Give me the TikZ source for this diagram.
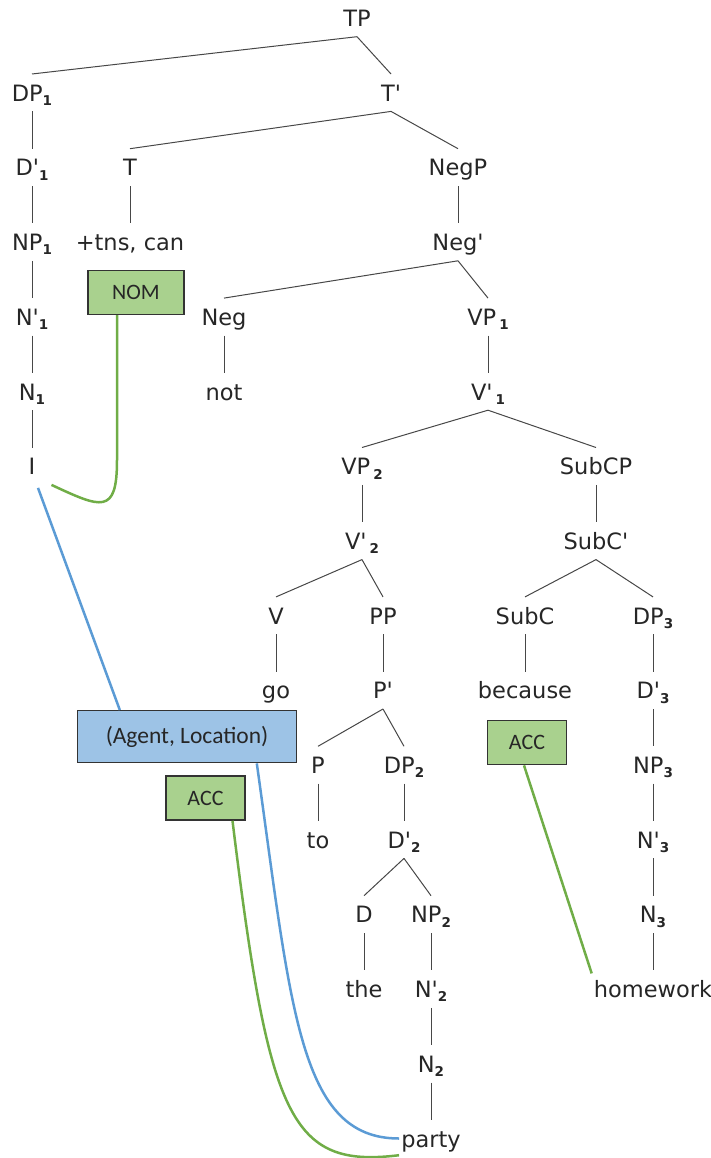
\documentclass[tikz,border=0pt]{standalone}
\usepackage{fontspec}
\usepackage{tikz}
\usetikzlibrary{positioning}
\newfontfamily\treefont{DejaVu Sans}
\newfontfamily\casefont{Carlito}
\definecolor{colCase}{RGB}{169,209,142}
\definecolor{colRole}{RGB}{157,195,230}
\definecolor{colCaseLn}{RGB}{112,173,71}
\definecolor{colRoleLn}{RGB}{91,155,213}
\newcommand{\sbs}[1]{\raisebox{-0.35ex}{\fontsize{13.5}{14}\selectfont\bfseries #1}}
\newcommand{\psbs}[1]{\hspace{3pt}\sbs{#1}}
\newcommand{\pr}{\textquotesingle}
\tikzset{
  lbl/.style     = {font=\treefont\fontsize{22.5}{27}\selectfont, text=black!85,
                    text height=22pt, text depth=5pt, inner xsep=2pt, inner ysep=5pt},
  casebox/.style = {rectangle, draw=black!80, line width=1.4pt, fill=colCase,
                    font=\casefont\fontsize{22}{26}\selectfont, text=black!85,
                    minimum width=79pt, minimum height=44pt, inner sep=0pt},
  rolebox/.style = {rectangle, draw=black!80, line width=1.4pt, fill=colRole,
                    font=\casefont\fontsize{23.5}{28}\selectfont, text=black!85,
                    minimum width=219pt, minimum height=52pt, inner sep=0pt},
  edge/.style    = {draw=black!72, line width=1pt},
  gline/.style   = {draw=colCaseLn, line width=2.5pt},
  bline/.style   = {draw=colRoleLn, line width=2.5pt},
}

\begin{document}
\begin{tikzpicture}[x=1pt, y=1pt, node distance=37.3pt]
\useasboundingbox (0,0) rectangle (711,-1158);

%% ── Row 0-1: TP, subject and T' ──────────────────────────
\node[lbl, anchor=base] (tp) at (357,-26.5) {TP};
\node[lbl, below=of tp, xshift=-325pt] (dp1)  {DP\sbs{1}};
\node[lbl, below=of tp, xshift=34pt]   (tbar) {T\pr};

%% ── Row 2-3: T and NegP ──────────────────────────────────
\node[lbl, below=of dp1]                (d1bar) {D\pr\sbs{1}};
\node[lbl, below=of tbar, xshift=-261pt] (t)    {T};
\node[lbl, below=of tbar, xshift=67pt]  (negp)  {NegP};
\node[lbl, below=of d1bar]              (np1)   {NP\sbs{1}};
\node[lbl, below=of t]                  (tns)   {+tns, can};
\node[lbl, below=of negp]               (negbar){Neg\pr};

%% ── Row 4-6: Neg and VP 1 ────────────────────────────────
\node[lbl, below=of np1]                (n1bar) {N\pr\sbs{1}};
\node[lbl, below=of negbar, xshift=-234pt] (neg) {Neg};
\node[lbl, below=of negbar, xshift=30pt] (vp1)  {VP\psbs{1}};
\node[lbl, below=of n1bar]              (n1)    {N\sbs{1}};
\node[lbl, below=of neg]                (not)   {not};
\node[lbl, below=of vp1]                (v1bar) {V\pr\psbs{1}};
\node[lbl, below=of n1]                 (i)     {I};
\node[lbl, below=of v1bar, xshift=-126pt] (vp2) {VP\psbs{2}};
\node[lbl, below=of v1bar, xshift=108pt] (subcp){SubCP};

%% ── Row 7-9: V'2 and SubC' ───────────────────────────────
\node[lbl, below=of vp2]                (v2bar) {V\pr\psbs{2}};
\node[lbl, below=of subcp]              (subcbar){SubC\pr};
\node[lbl, below=of v2bar, xshift=-86pt] (v)    {V};
\node[lbl, below=of v2bar, xshift=21pt] (pp)    {PP};
\node[lbl, below=of subcbar, xshift=-71pt] (subc){SubC};
\node[lbl, below=of subcbar, xshift=57pt] (dp3) {DP\sbs{3}};
\node[lbl, below=of v]                  (go)    {go};
\node[lbl, below=of pp]                 (pbar)  {P\pr};
\node[lbl, below=of subc]               (because){because};
\node[lbl, below=of dp3]                (d3bar) {D\pr\sbs{3}};

%% ── Row 10-15: PP object and DP3 ─────────────────────────
\node[lbl, below=of pbar, xshift=-65pt] (p)     {P};
\node[lbl, below=of pbar, xshift=21pt]  (dp2)   {DP\sbs{2}};
\node[lbl, below=of d3bar]              (np3)   {NP\sbs{3}};
\node[lbl, below=of p]                  (to)    {to};
\node[lbl, below=of dp2]                (d2bar) {D\pr\sbs{2}};
\node[lbl, below=of np3]                (n3bar) {N\pr\sbs{3}};
\node[lbl, below=of d2bar, xshift=-40pt] (d)    {D};
\node[lbl, below=of d2bar, xshift=27pt] (np2)   {NP\sbs{2}};
\node[lbl, below=of n3bar]              (n3)    {N\sbs{3}};
\node[lbl, below=of d]                  (the)   {the};
\node[lbl, below=of np2]                (n2bar) {N\pr\sbs{2}};
\node[lbl, below=of n3]                 (homework){homework};
\node[lbl, below=of n2bar]              (n2)    {N\sbs{2}};
\node[lbl, below=of n2]                 (party) {party};

%% ── Case and role boxes ──────────────────────────────────
\node[casebox, below=9pt of tns, xshift=6pt, minimum width=96pt] (nom) {NOM};
\node[rolebox, below=1pt of go, xshift=-89pt] (role) {(Agent, Location)};
\node[casebox, below=12pt of role, xshift=18.5pt] (accl) {ACC};
\node[casebox, below=11pt of because, xshift=2pt] (accr) {ACC};

%% ── Edges: TP, T', NegP ──────────────────────────────────
\draw[edge] (tp.south) -- (dp1.north);
\draw[edge] (tp.south) -- (tbar.north);
\draw[edge] (dp1.south) -- (d1bar.north);
\draw[edge] (d1bar.south) -- (np1.north);
\draw[edge] (np1.south) -- (n1bar.north);
\draw[edge] (n1bar.south) -- (n1.north);
\draw[edge] (n1.south) -- (i.north);
\draw[edge] (tbar.south) -- (t.north);
\draw[edge] (tbar.south) -- (negp.north);
\draw[edge] (t.south) -- (tns.north);
\draw[edge] (negp.south) -- (negbar.north);
\draw[edge] (negbar.south) -- (neg.north);
\draw[edge] (negbar.south) -- (vp1.north);
\draw[edge] (neg.south) -- (not.north);

%% ── Edges: VP 1 ──────────────────────────────────────────
\draw[edge] (vp1.south) -- (v1bar.north);
\draw[edge] (v1bar.south) -- (vp2.north);
\draw[edge] (v1bar.south) -- (subcp.north);
\draw[edge] (vp2.south) -- (v2bar.north);
\draw[edge] (v2bar.south) -- (v.north);
\draw[edge] (v2bar.south) -- (pp.north);
\draw[edge] (v.south) -- (go.north);
\draw[edge] (pp.south) -- (pbar.north);
\draw[edge] (pbar.south) -- (p.north);
\draw[edge] (pbar.south) -- (dp2.north);
\draw[edge] (p.south) -- (to.north);
\draw[edge] (dp2.south) -- (d2bar.north);
\draw[edge] (d2bar.south) -- (d.north);
\draw[edge] (d2bar.south) -- (np2.north);
\draw[edge] (d.south) -- (the.north);
\draw[edge] (np2.south) -- (n2bar.north);
\draw[edge] (n2bar.south) -- (n2.north);
\draw[edge] (n2.south) -- (party.north);

%% ── Edges: SubCP ─────────────────────────────────────────
\draw[edge] (subcp.south) -- (subcbar.north);
\draw[edge] (subcbar.south) -- (subc.north);
\draw[edge] (subcbar.south) -- (dp3.north);
\draw[edge] (subc.south) -- (because.north);
\draw[edge] (dp3.south) -- (d3bar.north);
\draw[edge] (d3bar.south) -- (np3.north);
\draw[edge] (np3.south) -- (n3bar.north);
\draw[edge] (n3bar.south) -- (n3.north);
\draw[edge] (n3.south) -- (homework.north);

%% ── Case and role links ──────────────────────────────────
\draw[gline] ([xshift=-19pt]nom.south) -- ++(0,-145)
  to[out=-90, in=-25, out distance=55pt, in distance=55pt] ([xshift=14pt]i.south east);
\draw[bline] ([xshift=6pt,yshift=-3pt]i.south) -- ([xshift=43pt]role.north west);
\draw[bline] ([xshift=180pt]role.south west)
  to[out=-82, in=180, out distance=250pt, in distance=100pt] (party.west);
\draw[gline] ([xshift=27pt]accl.south)
  to[out=-83, in=187, out distance=300pt, in distance=110pt] ([yshift=2pt]party.south west);
\draw[gline] ([xshift=-3pt]accr.south) -- ([yshift=-3pt]homework.north west);

\end{tikzpicture}
\end{document}
